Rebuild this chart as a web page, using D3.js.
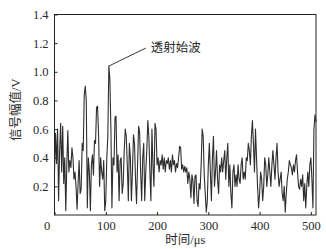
<!DOCTYPE html>
<html>
<head>
<meta charset="utf-8">
<script src="https://cdn.jsdelivr.net/npm/d3@7"></script>
<style>
  body { margin: 0; background: #fff; }
  text { fill: #2a2a2a; }
</style>
</head>
<body>
<div id="chart"></div>
<script>
const tStep = 2;
const amplitude = [
  0.30, 0.57, 0.36, 0.60, 0.10, 0.45, 0.64, 0.30, 0.62, 0.22,
  0.40, 0.03, 0.35, 0.59, 0.30, 0.38, 0.33, 0.47, 0.40, 0.25,
  0.30, 0.20, 0.04, 0.22, 0.38, 0.15, 0.18, 0.50, 0.45, 0.84,
  0.90, 0.80, 0.05, 0.40, 0.30, 0.03, 0.35, 0.42, 0.28, 0.52,
  0.50, 0.75, 0.76, 0.55, 0.20, 0.40, 0.30, 0.25, 0.38, 0.03,
  0.10, 0.40, 0.55, 1.04, 0.95, 0.60, 0.05, 0.40, 0.35, 0.68,
  0.69, 0.30, 0.42, 0.10, 0.38, 0.40, 0.15, 0.22, 0.45, 0.60,
  0.55, 0.35, 0.10, 0.50, 0.40, 0.10, 0.30, 0.56, 0.50, 0.25,
  0.08, 0.35, 0.62, 0.58, 0.30, 0.10, 0.40, 0.50, 0.10, 0.30,
  0.45, 0.66, 0.55, 0.30, 0.10, 0.60, 0.35, 0.20, 0.64, 0.60,
  0.35, 0.40, 0.30, 0.38, 0.35, 0.42, 0.32, 0.40, 0.30, 0.38,
  0.36, 0.40, 0.32, 0.38, 0.30, 0.42, 0.35, 0.38, 0.30, 0.36,
  0.33, 0.40, 0.48, 0.47, 0.32, 0.35, 0.30, 0.34, 0.30, 0.33,
  0.22, 0.30, 0.25, 0.12, 0.28, 0.24, 0.08, 0.27, 0.28, 0.10,
  0.06, 0.22, 0.18, 0.35, 0.60, 0.55, 0.28, 0.15, 0.02, 0.10,
  0.35, 0.50, 0.30, 0.10, 0.40, 0.55, 0.20, 0.30, 0.45, 0.25,
  0.15, 0.35, 0.30, 0.40, 0.30, 0.38, 0.45, 0.25, 0.40, 0.50,
  0.20, 0.35, 0.15, 0.05, 0.30, 0.35, 0.20, 0.28, 0.20, 0.35,
  0.25, 0.22, 0.35, 0.40, 0.25, 0.30, 0.25, 0.40, 0.38, 0.50,
  0.45, 0.35, 0.55, 0.66, 0.50, 0.30, 0.60, 0.40, 0.20, 0.05,
  0.15, 0.30, 0.25, 0.10, 0.20, 0.40, 0.35, 0.20, 0.28, 0.40,
  0.30, 0.20, 0.35, 0.45, 0.35, 0.25, 0.40, 0.50, 0.30, 0.20,
  0.25, 0.30, 0.15, 0.10, 0.20, 0.02, 0.15, 0.25, 0.30, 0.38,
  0.35, 0.33, 0.28, 0.35, 0.30, 0.38, 0.42, 0.30, 0.20, 0.18,
  0.25, 0.20, 0.28, 0.10, 0.22, 0.05, 0.20, 0.30, 0.20, 0.35,
  0.40, 0.25, 0.05, 0.60, 0.70, 0.65
];
const xTicks = [0, 100, 200, 300, 400, 500];
const yTicks = [0.2, 0.4, 0.6, 0.8, 1.0, 1.2, 1.4];
const peak = { t: 106, v: 1.04, label: '透射始波' };
const xTitle = '时间/μs';
const yTitle = '信号幅值/V';

const W = 326, H = 249;
const m = { left: 54.5, right: 10, top: 14.5, bottom: 34 };
const latin = '"Liberation Serif", "Times New Roman", serif';
const cjk = '"Liberation Serif", "Noto Sans CJK SC", serif';

const svg = d3.select('#chart').append('svg')
  .attr('width', W).attr('height', H);

const x = d3.scaleLinear().domain([0, 510]).range([m.left, W - m.right]);
const y = d3.scaleLinear().domain([0, 1.4]).range([H - m.bottom, m.top]);

// frame
svg.append('rect')
  .attr('x', x(0)).attr('y', y(1.4))
  .attr('width', x(510) - x(0)).attr('height', y(0) - y(1.4))
  .attr('fill', 'none').attr('stroke', '#222').attr('stroke-width', 1);

// axes, ticks pointing inward
const xAxis = svg.append('g')
  .attr('transform', `translate(0,${y(0)})`)
  .call(d3.axisBottom(x).tickValues(xTicks).tickSizeInner(-3).tickSizeOuter(0).tickPadding(6));
const yAxis = svg.append('g')
  .attr('transform', `translate(${x(0)},0)`)
  .call(d3.axisLeft(y).tickValues(yTicks).tickFormat(d3.format('.1f')).tickSizeInner(-3).tickSizeOuter(0).tickPadding(6));

[xAxis, yAxis].forEach(g => {
  g.select('.domain').remove();
  g.selectAll('line').attr('stroke', '#222');
  g.selectAll('text').attr('font-family', latin).attr('font-size', 12.5).attr('fill', '#2a2a2a');
});
// origin label sits left of the corner
xAxis.selectAll('.tick').filter(d => d === 0).select('text').attr('dx', -8);

// signal
const line = d3.line()
  .x((d, i) => x(i * tStep))
  .y(d => y(d));
svg.append('path')
  .datum(amplitude)
  .attr('d', line)
  .attr('fill', 'none')
  .attr('stroke', '#2e2e2e')
  .attr('stroke-width', 1.1)
  .attr('stroke-linejoin', 'round');

// annotation
const px = x(peak.t), py = y(peak.v);
svg.append('line')
  .attr('x1', px).attr('y1', py)
  .attr('x2', px + 37).attr('y2', py - 18)
  .attr('stroke', '#222').attr('stroke-width', 0.9);
svg.append('text')
  .attr('x', px + 42).attr('y', py - 18)
  .attr('dy', '0.35em')
  .attr('font-family', cjk).attr('font-size', 12.5)
  .text(peak.label);

// titles
svg.append('text')
  .attr('x', (x(0) + x(510)) / 2).attr('y', H - 5)
  .attr('text-anchor', 'middle')
  .attr('font-family', cjk).attr('font-size', 12.5)
  .text(xTitle);
svg.append('text')
  .attr('transform', `translate(16,${(y(0) + y(1.4)) / 2 - 5}) rotate(-90)`)
  .attr('text-anchor', 'middle')
  .attr('dy', '0.35em')
  .attr('font-family', cjk).attr('font-size', 12.5)
  .text(yTitle);
</script>
</body>
</html>
